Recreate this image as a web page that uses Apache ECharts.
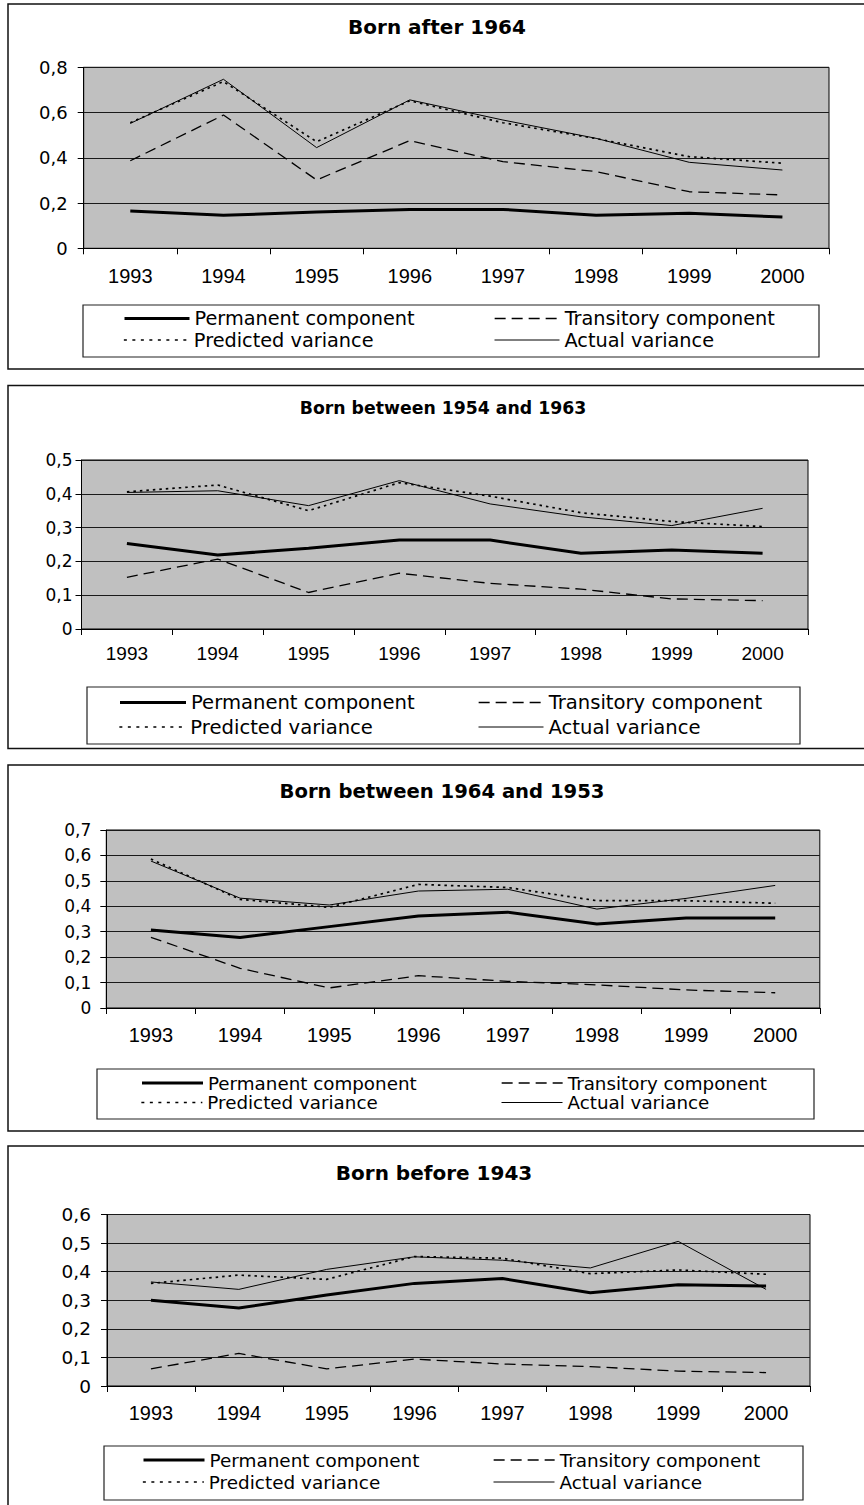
<!DOCTYPE html>
<html>
<head>
<meta charset="utf-8">
<script src="https://cdn.jsdelivr.net/npm/echarts@6/dist/echarts.min.js"></script>
<style>
html,body{margin:0;padding:0;background:#fff;}
#c{width:864px;height:1505px;}
</style>
</head>
<body>
<div id="c"></div>
<script>
// ---------- DATA ----------
const years = ['1993', '1994', '1995', '1996', '1997', '1998', '1999', '2000'];
const seriesNames = ['Permanent component', 'Transitory component', 'Predicted variance', 'Actual variance'];
const panelTitles = ['Born after 1964', 'Born between 1954 and 1963', 'Born between 1964 and 1953', 'Born before 1943'];

// Panel 1: Born after 1964
const perm1  = [0.165, 0.146, 0.160, 0.172, 0.172, 0.146, 0.155, 0.138];
const trans1 = [0.387, 0.589, 0.302, 0.476, 0.383, 0.339, 0.250, 0.236];
const pred1  = [0.555, 0.737, 0.471, 0.652, 0.555, 0.485, 0.405, 0.376];
const act1   = [0.552, 0.747, 0.445, 0.656, 0.567, 0.486, 0.380, 0.346];
const yTicks1 = ['0', '0,2', '0,4', '0,6', '0,8'];

// Panel 2: Born between 1954 and 1963
const perm2  = [0.253, 0.219, 0.239, 0.263, 0.263, 0.224, 0.234, 0.224];
const trans2 = [0.153, 0.207, 0.108, 0.165, 0.135, 0.118, 0.089, 0.084];
const pred2  = [0.406, 0.426, 0.350, 0.433, 0.393, 0.344, 0.318, 0.303];
const act2   = [0.404, 0.409, 0.365, 0.439, 0.370, 0.332, 0.306, 0.357];
const yTicks2 = ['0', '0,1', '0,2', '0,3', '0,4', '0,5'];

// Panel 3: Born between 1964 and 1953
const perm3  = [0.307, 0.277, 0.320, 0.362, 0.377, 0.330, 0.354, 0.354];
const trans3 = [0.278, 0.156, 0.079, 0.127, 0.105, 0.091, 0.071, 0.060];
const pred3  = [0.586, 0.427, 0.396, 0.486, 0.474, 0.422, 0.422, 0.412];
const act3   = [0.578, 0.432, 0.405, 0.460, 0.467, 0.389, 0.431, 0.482];
const yTicks3 = ['0', '0,1', '0,2', '0,3', '0,4', '0,5', '0,6', '0,7'];

// Panel 4: Born before 1943
const perm4  = [0.300, 0.273, 0.318, 0.359, 0.376, 0.326, 0.354, 0.350];
const trans4 = [0.060, 0.114, 0.060, 0.094, 0.077, 0.068, 0.052, 0.047];
const pred4  = [0.359, 0.388, 0.373, 0.453, 0.447, 0.393, 0.406, 0.391];
const act4   = [0.364, 0.338, 0.408, 0.452, 0.440, 0.413, 0.506, 0.338];
const yTicks4 = ['0', '0,1', '0,2', '0,3', '0,4', '0,5', '0,6'];

const panelData = [
  [perm1, trans1, pred1, act1],
  [perm2, trans2, pred2, act2],
  [perm3, trans3, pred3, act3],
  [perm4, trans4, pred4, act4]
];
const panelTicks = [yTicks1, yTicks2, yTicks3, yTicks4];
const panelMax = [0.8, 0.5, 0.7, 0.6];
const panelInterval = [0.2, 0.1, 0.1, 0.1];

// ---------- LAYOUT / STYLE ----------
const layout = [
  {frame:[8,4,866,369], grid:{left:83.7,top:67.3,width:745.3,height:181},
   titleX:437, titleY:26.7, titleSize:20, yFont:18, yMargin:16, xFont:20, xMargin:18,
   legBox:[83,305,819,357], rows:[318.5,340], cols:[[123,65],[494,65]], legFont:19.3},
  {frame:[8,385.5,866,748.5], grid:{left:81.5,top:460,width:726.5,height:169},
   titleX:443, titleY:408.3, titleSize:17.3, yFont:17, yMargin:9, xFont:19, xMargin:15,
   legBox:[87,687,800,744], rows:[702.5,727], cols:[[118.5,66],[478,65]], legFont:19.6},
  {frame:[8,765,866,1131], grid:{left:106.3,top:830,width:713.5,height:178},
   titleX:442, titleY:791.7, titleSize:19.6, yFont:17, yMargin:15, xFont:20, xMargin:17,
   legBox:[97,1069,814,1119], rows:[1083,1102.5], cols:[[140.5,61],[501,61]], legFont:18.3},
  {frame:[8,1146,866,1510], grid:{left:107,top:1214.5,width:703,height:171.5},
   titleX:434, titleY:1172.7, titleSize:20, yFont:18.5, yMargin:16, xFont:20, xMargin:17,
   legBox:[104,1446,803,1500], rows:[1460,1482], cols:[[142,61],[493,61]], legFont:18.4}
];

const lineStyles = [
  {color:'#000', width:3, type:'solid'},
  {color:'#000', width:1.3, type:[11,6]},
  {color:'#000', width:1.7, type:[2.5,4]},
  {color:'#000', width:1, type:'solid'}
];
const legendLineTypes = ['solid', [11,6], [3,5.5], 'solid'];
// legend slot: [col,row] for each series
const legendSlot = [[0,0],[1,0],[0,1],[1,1]];

const option = {
  animation:false,
  backgroundColor:'#fff',
  title:[], grid:[], xAxis:[], yAxis:[], series:[], legend:[], graphic:[]
};

layout.forEach((L, i) => {
  option.graphic.push({type:'rect', silent:true, z:-10,
    shape:{x:L.frame[0], y:L.frame[1], width:L.frame[2]-L.frame[0], height:L.frame[3]-L.frame[1]},
    style:{fill:'none', stroke:'#111', lineWidth:1.5}});
  option.graphic.push({type:'rect', silent:true, z:-5,
    shape:{x:L.legBox[0], y:L.legBox[1], width:L.legBox[2]-L.legBox[0], height:L.legBox[3]-L.legBox[1]},
    style:{fill:'#fff', stroke:'#222', lineWidth:1.2}});

  const tlh = Math.round(L.titleSize + 4);
  option.title.push({text:panelTitles[i], left:L.titleX, top:L.titleY - tlh/2, textAlign:'center', padding:0,
    textStyle:{fontFamily:'DejaVu Sans', fontWeight:'bold', fontSize:L.titleSize, color:'#000', lineHeight:tlh}});

  option.grid.push(Object.assign({show:true, backgroundColor:'#C0C0C0', borderColor:'#000', borderWidth:1,
    outerBoundsMode:'none', containLabel:false}, L.grid));

  option.xAxis.push({type:'category', gridIndex:i, data:years, boundaryGap:true,
    axisLine:{show:true, onZero:false, lineStyle:{color:'#000', width:1}},
    axisTick:{show:true, length:6, interval:0, alignWithLabel:false, lineStyle:{color:'#000', width:1}},
    axisLabel:{interval:0, margin:L.xMargin, fontSize:L.xFont, fontFamily:'Liberation Sans, Arial, sans-serif', color:'#000'},
    splitLine:{show:false}});

  const ticks = panelTicks[i], itv = panelInterval[i];
  option.yAxis.push({type:'value', gridIndex:i, min:0, max:panelMax[i], interval:itv,
    axisLine:{show:true, lineStyle:{color:'#000', width:1}},
    axisTick:{show:true, length:6, lineStyle:{color:'#000', width:1}},
    axisLabel:{margin:L.yMargin, fontSize:L.yFont, fontFamily:'DejaVu Sans', color:'#000',
      formatter:(v) => ticks[Math.round(v / itv)]},
    splitLine:{show:true, lineStyle:{color:'#1a1a1a', width:1}}});

  panelData[i].forEach((arr, s) => {
    option.series.push({type:'line', name:seriesNames[s], xAxisIndex:i, yAxisIndex:i, data:arr,
      symbol:'none', showSymbol:false, silent:true, z:2 + (s === 0 ? 1 : 0),
      lineStyle:Object.assign({}, lineStyles[s]), emphasis:{disabled:true}});

    const lh = Math.round(L.legFont + 3);
    const slot = legendSlot[s];
    const ls = lineStyles[s];
    option.legend.push({show:true, selectedMode:false, orient:'horizontal', padding:0,
      left:L.cols[slot[0]][0], top:L.rows[slot[1]] - lh/2,
      itemWidth:L.cols[slot[0]][1], itemHeight:8,
      data:[{name:seriesNames[s]}],
      lineStyle:{width:ls.width, type:legendLineTypes[s], color:'#000'},
      itemStyle:{opacity:0},
      textStyle:{fontFamily:'DejaVu Sans', fontSize:L.legFont, color:'#000', lineHeight:lh}});
  });
});

const chart = echarts.init(document.getElementById('c'), null, {renderer:'svg', width:864, height:1505});
chart.setOption(option);
</script>
</body>
</html>
